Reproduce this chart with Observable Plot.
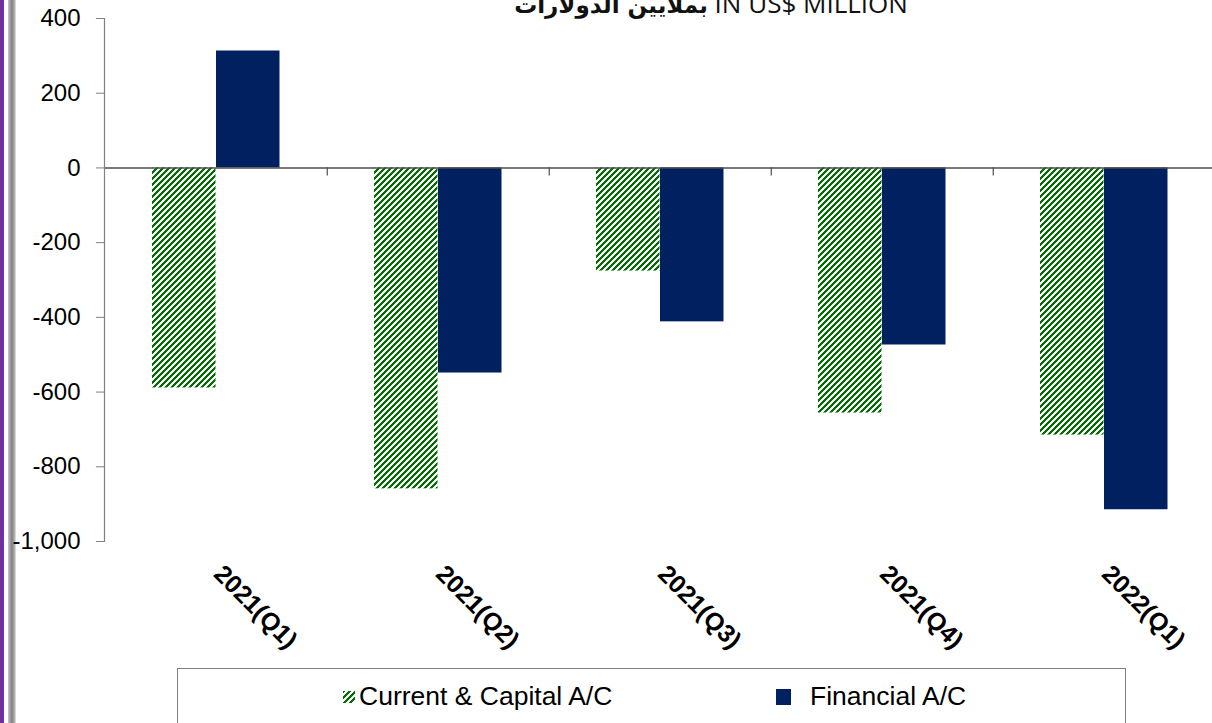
<!DOCTYPE html>
<html>
<head>
<meta charset="utf-8">
<script src="https://cdn.jsdelivr.net/npm/d3@7"></script>
<script src="https://cdn.jsdelivr.net/npm/@observablehq/plot@0.6"></script>
<style>
  html, body { margin: 0; padding: 0; background: #fff; overflow: hidden; width: 1212px; height: 723px; }
  #wrap { position: relative; width: 1212px; height: 723px; }
  #purple { position: absolute; left: 0; top: 0; width: 4px; height: 723px; background: #7030a0; }
  #gray { position: absolute; left: 8px; top: 0; width: 8px; height: 723px;
          background: linear-gradient(to right, #c8c8c8, #9a9a9a 30%, #7f7f7f 50%, #b0b0b0 80%, #e6e6e6); }
  #chart { position: absolute; left: 0; top: 0; }
  #title { position: absolute; left: 0; width: 1422px; top: -10px; text-align: center; white-space: nowrap;
           font-family: "Open Sans", "DejaVu Sans", sans-serif; font-size: 26px; line-height: 27px; color: #111; }
  #title .ar { font-family: "DejaVu Sans", sans-serif; font-weight: bold; font-size: 23px; }
  #legend { position: absolute; left: 177px; top: 668px; width: 947px; height: 80px;
            border: 1px solid #7f7f7f; background: #fff; font-family: "Liberation Sans", Arial, sans-serif;
            font-size: 26.5px; color: #000; }
  .item { position: absolute; top: 12px; display: flex; align-items: center; white-space: nowrap; }
  .sw { display: inline-block; }
</style>
</head>
<body>
<div id="wrap">
  <div id="purple"></div>
  <div id="gray"></div>
  <div id="chart"></div>
  <div id="title"><span class="ar">بملايين الدولارات</span> IN US$ MILLION</div>
  <div id="legend"></div>
</div>
<script>
// ---- data ----
const quarters = ["2021(Q1)", "2021(Q2)", "2021(Q3)", "2021(Q4)", "2022(Q1)"];
const currentCapital = [-589, -859, -276, -656, -715];
const financial = [313, -549, -412, -474, -915];
const yTicks = [400, 200, 0, -200, -400, -600, -800, -1000];
const seriesNames = ["Current & Capital A/C", "Financial A/C"];

const rowsCC = quarters.map((q, i) => ({quarter: q, value: currentCapital[i]}));
const rowsFin = quarters.map((q, i) => ({quarter: q, value: financial[i]}));

const GREEN = "#007000";
const NAVY = "#002060";
const fmt = d => d3.format(",")(d).replace("\u2212", "-");

const left = 104, right = 1216.5;
const bw = (right - left) / quarters.length;

// pixel-staircase "/" hatch, 6px tile, 3px-wide stripes
function hatchDef(id) {
  let d = "";
  for (let r = 0; r < 6; r++) {
    for (let k = 0; k < 3; k++) {
      const c = (5 - r + k + 6) % 6;
      d += `M${c},${r}h1v1h-1z`;
    }
  }
  return `<pattern id="${id}" patternUnits="userSpaceOnUse" width="6" height="6">
     <rect width="6" height="6" fill="#fff"/>
     <path d="${d}" fill="${GREEN}" shape-rendering="crispEdges"/>
   </pattern>`;
}

const plot = Plot.plot({
  width: 1212,
  height: 668,
  marginTop: 18,
  marginBottom: 127,
  marginLeft: left,
  marginRight: 0,
  style: {fontFamily: "'Liberation Sans', Arial, sans-serif", fontSize: "22px", color: "#000", background: "transparent", overflow: "visible"},
  x: {type: "band", domain: quarters, range: [left, right], padding: 0, axis: null},
  y: {domain: [-1000, 400], axis: null},
  marks: [
    Plot.barY(rowsCC, {x: "quarter", y: "value", fill: "url(#hatch)", insetLeft: 47, insetRight: bw - 111}),
    Plot.barY(rowsFin, {x: "quarter", y: "value", fill: NAVY, insetLeft: 111, insetRight: bw - 175}),
    Plot.ruleY([0], {stroke: "#4d4d4d", strokeWidth: 1.5}),
    Plot.ruleX(quarters.slice(1), {x: d => d, y1: () => 0, y2: () => 0, insetBottom: -8, dx: -bw / 2, stroke: "#4d4d4d", strokeWidth: 1.2}),
    Plot.frame({anchor: "left", stroke: "#808080", strokeWidth: 1.2}),
    Plot.axisY({ticks: yTicks, tickFormat: fmt, tickSize: 8, tickPadding: 16, stroke: "#808080", fill: "#000", fontSize: 24, label: null}),
    Plot.text(quarters, {x: d => d, text: d => d, frameAnchor: "bottom", rotate: 45, textAnchor: "start",
      dy: 34, dx: -4, fontSize: 25, fontWeight: "bold", fill: "#000"})
  ]
});

d3.select(plot).insert("defs", ":first-child").html(hatchDef("hatch"));
document.getElementById("chart").appendChild(plot);

// legend
const lg = document.getElementById("legend");
lg.innerHTML = `
  <div class="item" style="left:165px">
    <svg class="sw" width="12" height="12" style="margin-right:4px">
      <defs>${hatchDef("hatch2")}</defs>
      <rect width="12" height="12" fill="url(#hatch2)"/>
    </svg><span>${seriesNames[0]}</span>
  </div>
  <div class="item" style="left:598px">
    <svg class="sw" width="15" height="16" style="margin-right:19px"><rect width="15" height="16" fill="${NAVY}"/></svg><span>${seriesNames[1]}</span>
  </div>`;
</script>
</body>
</html>
